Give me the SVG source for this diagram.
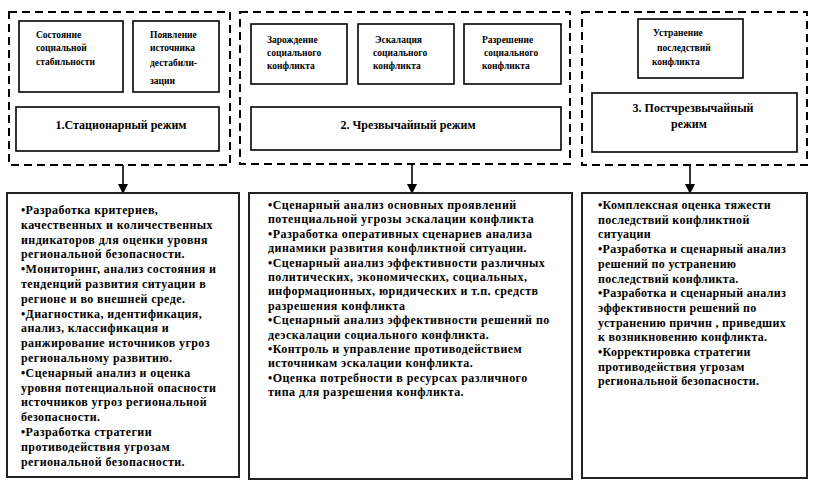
<svg xmlns="http://www.w3.org/2000/svg" width="815" height="487" viewBox="0 0 815 487">
<style>
.dash{fill:none;stroke:#000;stroke-width:2;stroke-dasharray:8 5}
.box{fill:#fff;stroke:#000;stroke-width:1.6}
.big{fill:#fff;stroke:#222;stroke-width:2}
.conn{stroke:#000;stroke-width:1.6;fill:none}
</style>
<defs>
<marker id="arr" markerWidth="10" markerHeight="10" refX="9" refY="5" orient="auto" markerUnits="userSpaceOnUse">
<path d="M0,0 L10,5 L0,10 Z" fill="#000"/>
</marker>
</defs>
<rect width="815" height="487" fill="#fff"/>
<g id="stage1">
<rect class="dash" x="9" y="12" width="221" height="153"/>
<g id="n-state"><rect class="box" x="19" y="21" width="104" height="71"/>
<text font-family="Liberation Serif" font-weight="bold" font-size="9.5"><tspan x="36" y="38">Состояние</tspan><tspan x="36" y="51">социальной</tspan><tspan x="36" y="65">стабильности</tspan></text></g>
<g id="n-source"><rect class="box" x="133" y="21" width="86" height="71"/>
<text font-family="Liberation Serif" font-weight="bold" font-size="9.5"><tspan x="150" y="38">Появление</tspan><tspan x="150" y="51">источника</tspan><tspan x="150" y="66">дестабили-</tspan><tspan x="150" y="84">зации</tspan></text></g>
<g id="n-mode1"><rect class="box" x="16" y="107" width="203" height="44"/>
<text font-family="Liberation Serif" font-weight="bold" font-size="12" x="121" y="129" text-anchor="middle">1.Стационарный режим</text></g>
</g>

<g id="stage2">
<rect class="dash" x="240" y="12" width="330" height="152"/>
<g id="n-origin"><rect class="box" x="251" y="24" width="96" height="60"/>
<text font-family="Liberation Serif" font-weight="bold" font-size="9.5"><tspan x="267" y="43">Зарождение</tspan><tspan x="267" y="56">социального</tspan><tspan x="267" y="69">конфликта</tspan></text></g>
<g id="n-escal"><rect class="box" x="358" y="24" width="96" height="60"/>
<text font-family="Liberation Serif" font-weight="bold" font-size="9.5"><tspan x="375" y="43">Эскалация</tspan><tspan x="373" y="56">социального</tspan><tspan x="373" y="69">конфликта</tspan></text></g>
<g id="n-resol"><rect class="box" x="464" y="24" width="97" height="60"/>
<text font-family="Liberation Serif" font-weight="bold" font-size="9.5"><tspan x="482" y="43">Разрешение</tspan><tspan x="484" y="56">социального</tspan><tspan x="482" y="69">конфликта</tspan></text></g>
<g id="n-mode2"><rect class="box" x="251" y="107" width="310" height="43"/>
<text font-family="Liberation Serif" font-weight="bold" font-size="12" x="408" y="129" text-anchor="middle">2. Чрезвычайный режим</text></g>
</g>

<g id="stage3">
<rect class="dash" x="582" y="12" width="225" height="153"/>
<g id="n-elim"><rect class="box" x="638" y="19" width="105" height="59"/>
<text font-family="Liberation Serif" font-weight="bold" font-size="9.5"><tspan x="653" y="36">Устранение</tspan><tspan x="657" y="51">последствий</tspan><tspan x="652" y="65">конфликта</tspan></text></g>
<g id="n-mode3"><rect class="box" x="592" y="93" width="205" height="59"/>
<text font-family="Liberation Serif" font-weight="bold" font-size="12" text-anchor="middle"><tspan x="693" y="112">3. Постчрезвычайный</tspan><tspan x="689" y="128">режим</tspan></text></g>
</g>

<g id="connectors">
<line class="conn" x1="123" y1="165" x2="123" y2="193" marker-end="url(#arr)"/>
<line class="conn" x1="412" y1="164" x2="412" y2="193" marker-end="url(#arr)"/>
<line class="conn" x1="690" y1="165" x2="690" y2="193" marker-end="url(#arr)"/>
</g>

<g id="tasks1">
<rect class="big" x="7" y="193" width="232" height="284"/>
<text font-family="Liberation Serif" font-weight="bold" font-size="12" letter-spacing="0.4">
<tspan x="21" y="214">•Разработка критериев,</tspan>
<tspan x="21" y="228.8">качественных и количественных</tspan>
<tspan x="21" y="243.6">индикаторов для оценки уровня</tspan>
<tspan x="21" y="258.4">региональной безопасности.</tspan>
<tspan x="21" y="273.2">•Мониторинг, анализ состояния и</tspan>
<tspan x="21" y="288">тенденций развития ситуации в</tspan>
<tspan x="21" y="302.8">регионе и во внешней среде.</tspan>
<tspan x="21" y="317.6">•Диагностика, идентификация,</tspan>
<tspan x="21" y="332.4">анализ, классификация и</tspan>
<tspan x="21" y="347.2">ранжирование источников угроз</tspan>
<tspan x="21" y="362">региональному развитию.</tspan>
<tspan x="21" y="376.8">•Сценарный анализ и оценка</tspan>
<tspan x="21" y="391.6">уровня потенциальной опасности</tspan>
<tspan x="21" y="406.4">источников угроз региональной</tspan>
<tspan x="21" y="421.2">безопасности.</tspan>
<tspan x="21" y="436">•Разработка стратегии</tspan>
<tspan x="21" y="450.8">противодействия угрозам</tspan>
<tspan x="21" y="465.6">региональной безопасности.</tspan>
</text>
</g>

<g id="tasks2">
<rect class="big" x="249" y="193" width="323" height="286"/>
<text font-family="Liberation Serif" font-weight="bold" font-size="12" letter-spacing="0.45">
<tspan x="268" y="209">•Сценарный анализ основных проявлений</tspan>
<tspan x="268" y="223.4">потенциальной угрозы эскалации конфликта</tspan>
<tspan x="268" y="237.8">•Разработка оперативных сценариев анализа</tspan>
<tspan x="268" y="252.2">динамики развития конфликтной ситуации.</tspan>
<tspan x="268" y="266.6">•Сценарный анализ эффективности различных</tspan>
<tspan x="268" y="281">политических, экономических, социальных,</tspan>
<tspan x="268" y="295.4">информационных, юридических и т.п. средств</tspan>
<tspan x="268" y="309.8">разрешения конфликта</tspan>
<tspan x="268" y="324.2">•Сценарный анализ эффективности решений по</tspan>
<tspan x="268" y="338.6">деэскалации социального конфликта.</tspan>
<tspan x="268" y="353">•Контроль и управление противодействием</tspan>
<tspan x="268" y="367.4">источникам эскалации конфликта.</tspan>
<tspan x="268" y="381.8">•Оценка потребности в ресурсах различного</tspan>
<tspan x="268" y="396.2">типа для разрешения конфликта.</tspan>
</text>
</g>

<g id="tasks3">
<rect class="big" x="582" y="193" width="225" height="285"/>
<text font-family="Liberation Serif" font-weight="bold" font-size="12" letter-spacing="0.3">
<tspan x="598" y="209">•Комплексная оценка тяжести</tspan>
<tspan x="598" y="223.7">последствий конфликтной</tspan>
<tspan x="598" y="238.4">ситуации</tspan>
<tspan x="598" y="253.1">•Разработка и сценарный анализ</tspan>
<tspan x="598" y="267.8">решений по устранению</tspan>
<tspan x="598" y="282.5">последствий конфликта.</tspan>
<tspan x="598" y="297.2">•Разработка и сценарный анализ</tspan>
<tspan x="598" y="311.9">эффективности решений по</tspan>
<tspan x="598" y="326.6">устранению причин , приведших</tspan>
<tspan x="598" y="341.3">к возникновению конфликта.</tspan>
<tspan x="598" y="356">•Корректировка стратегии</tspan>
<tspan x="598" y="370.7">противодействия угрозам</tspan>
<tspan x="598" y="385.4">региональной безопасности.</tspan>
</text>
</g>
</svg>
